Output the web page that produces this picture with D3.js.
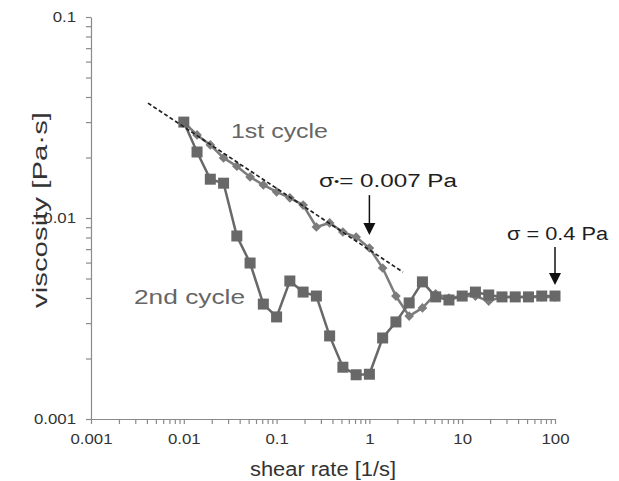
<!DOCTYPE html>
<html>
<head>
<meta charset="utf-8">
<script src="https://cdn.jsdelivr.net/npm/d3@7"></script>
<style>
  body { margin: 0; background: #fff; }
  svg { display: block; }
  text { font-family: "Liberation Sans", Arial, sans-serif; }
</style>
</head>
<body>
<svg id="chart" width="619" height="481"></svg>
<script>
// ---- data ----
const shearRate = [0.01, 0.01389, 0.01931, 0.02683, 0.03728, 0.05179, 0.07197, 0.1, 0.1389, 0.1931,
  0.2683, 0.3728, 0.5179, 0.7197, 1, 1.389, 1.931, 2.683, 3.728, 5.179, 7.197, 10, 13.89, 19.31,
  26.83, 37.28, 51.79, 71.97, 100];
const cycle1 = [0.0300, 0.0259, 0.0231, 0.0199, 0.0181, 0.0160, 0.0146, 0.0135, 0.0126, 0.0116,
  0.00902, 0.00945, 0.00852, 0.00804, 0.00709, 0.00564, 0.00409, 0.00325, 0.00357, 0.00419,
  0.00400, 0.00409, 0.00409, 0.00386, 0.00405, 0.00405, 0.00405, 0.00405, 0.00405];
const cycle2 = [0.0300, 0.0213, 0.0156, 0.0149, 0.00814, 0.00597, 0.00373, 0.00322, 0.00486, 0.00428,
  0.00409, 0.00259, 0.00181, 0.00166, 0.00167, 0.00253, 0.00304, 0.00378, 0.00481, 0.00405,
  0.00391, 0.00409, 0.00428, 0.00414, 0.00405, 0.00405, 0.00405, 0.00409, 0.00409];
const fitX = [0.00411, 2.30];
const fitY = [0.0373, 0.00538];
const xTickLabels = ["0.001", "0.01", "0.1", "1", "10", "100"];
const yTickLabels = ["0.001", "0.01", "0.1"];

// ---- layout ----
const svg = d3.select("#chart");
const x = d3.scaleLog().domain([0.001, 100]).range([91, 555]);
const y = d3.scaleLog().domain([0.001, 0.1]).range([419, 17]);
const axisColor = "#8a8a8a";
const textColor = "#333";

function fitWidth(sel, w) {
  sel.attr("textLength", w).attr("lengthAdjust", "spacingAndGlyphs");
}
function stretch(sel, k) {
  sel.each(function () {
    const n = this.getComputedTextLength();
    if (n > 0) d3.select(this).attr("textLength", n * k).attr("lengthAdjust", "spacingAndGlyphs");
  });
}

function allTicks(lo, hi) {
  const t = [];
  for (let e = lo; e < hi; e++) for (let m = 1; m < 10; m++) t.push(m * Math.pow(10, e));
  t.push(Math.pow(10, hi));
  return t;
}
const xMajor = xTickLabels.map(Number);
const yMajor = yTickLabels.map(Number);

const xAxis = d3.axisBottom(x).tickValues(allTicks(-3, 2)).tickSizeInner(5).tickSizeOuter(0).tickPadding(9)
  .tickFormat(v => { const i = xMajor.findIndex(a => Math.abs(v / a - 1) < 1e-6); return i >= 0 ? xTickLabels[i] : ""; });
const yAxis = d3.axisLeft(y).tickValues(allTicks(-3, -1)).tickSizeInner(5).tickSizeOuter(0).tickPadding(10)
  .tickFormat(v => { const i = yMajor.findIndex(a => Math.abs(v / a - 1) < 1e-6); return i >= 0 ? yTickLabels[i] : ""; });

const gx = svg.append("g").attr("transform", "translate(0,419)").call(xAxis);
const gy = svg.append("g").attr("transform", "translate(91,0)").call(yAxis);
[gx, gy].forEach(g => {
  g.select(".domain").attr("stroke", axisColor).attr("stroke-width", 1.2);
  g.selectAll(".tick line").attr("stroke", axisColor).attr("stroke-width", 1.2);
  g.selectAll(".tick text").attr("fill", textColor).style("font-size", "15px");
  stretch(g.selectAll(".tick text"), 1.12);
});

// axis titles
svg.append("text").attr("x", 323).attr("y", 476).attr("text-anchor", "middle")
  .attr("fill", textColor).style("font-size", "20px").text("shear rate [1/s]").call(fitWidth, 146);
svg.append("text").attr("transform", "translate(47,210) rotate(-90)").attr("text-anchor", "middle")
  .attr("fill", textColor).style("font-size", "21px").text("viscosity [Pa·s]").call(fitWidth, 196);

// series
const c1Color = "#7c7c7c";
const c2Color = "#686868";
const line = d3.line().x(d => x(d[0])).y(d => y(d[1]));
const d1 = shearRate.map((s, i) => [s, cycle1[i]]);
const d2 = shearRate.map((s, i) => [s, cycle2[i]]);

svg.append("path").datum(d1).attr("d", line).attr("fill", "none").attr("stroke", c1Color).attr("stroke-width", 2.5);
svg.selectAll(".dia").data(d1).enter().append("path")
  .attr("d", d3.symbol(d3.symbolDiamond2, 60)())
  .attr("transform", d => `translate(${x(d[0])},${y(d[1])})`).attr("fill", c1Color);

svg.append("path").datum(d2).attr("d", line).attr("fill", "none").attr("stroke", c2Color).attr("stroke-width", 2.5);
svg.selectAll(".sq").data(d2).enter().append("rect")
  .attr("x", d => x(d[0]) - 5.5).attr("y", d => y(d[1]) - 5.5).attr("width", 11).attr("height", 11)
  .attr("fill", c2Color);

// fit line
svg.append("path").datum(fitX.map((v, i) => [v, fitY[i]])).attr("d", line)
  .attr("fill", "none").attr("stroke", "#222").attr("stroke-width", 1.7).attr("stroke-dasharray", "4,2.5");

// labels
svg.append("text").attr("x", 231).attr("y", 138).attr("fill", "#666").style("font-size", "20px")
  .text("1st cycle").call(fitWidth, 97);
svg.append("text").attr("x", 134).attr("y", 304).attr("fill", "#666").style("font-size", "20px")
  .text("2nd cycle").call(fitWidth, 111);

const ann = svg.append("text").attr("x", 319).attr("y", 187).attr("fill", "#1e1e1e")
  .style("font-size", "18px");
ann.append("tspan").text("σ");
ann.append("tspan").style("font-size", "11px").attr("dy", -2).text("•");
ann.append("tspan").attr("dy", 2).text("= 0.007 Pa");
fitWidth(ann, 138);
svg.append("text").attr("x", 507).attr("y", 240).attr("fill", "#1e1e1e")
  .style("font-size", "18px").text("σ = 0.4 Pa").call(fitWidth, 101);

// arrows
function arrow(xv, y0, y1) {
  const px = x(xv), a = y(y0), b = y(y1);
  svg.append("line").attr("x1", px).attr("x2", px).attr("y1", a).attr("y2", b - 10)
    .attr("stroke", "#111").attr("stroke-width", 1.5);
  svg.append("path").attr("d", `M${px - 6},${b - 12}L${px + 6},${b - 12}L${px},${b}Z`).attr("fill", "#111");
}
arrow(1, 0.0130, 0.00823);
arrow(100, 0.00718, 0.00464);
</script>
</body>
</html>
